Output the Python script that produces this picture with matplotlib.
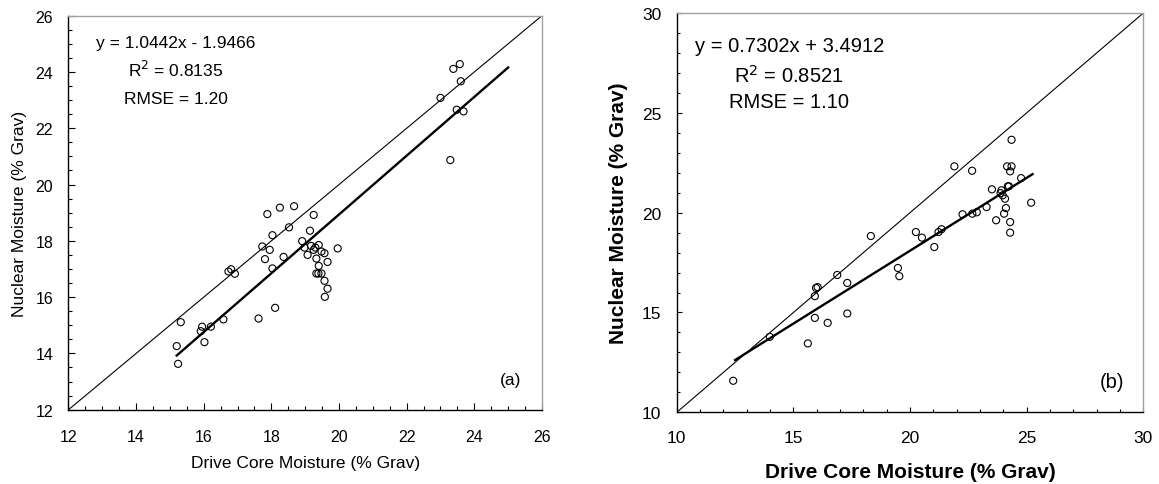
import numpy as np
import matplotlib
matplotlib.use("Agg")
import matplotlib.pyplot as plt
from matplotlib.ticker import MultipleLocator

plt.rcParams["font.family"] = ["Liberation Sans", "DejaVu Sans"]

# (a) drive core vs nuclear gauge moisture
core_a = [15.20, 15.24, 15.32, 15.91, 15.95, 16.02, 16.21, 16.58, 16.73, 16.81,
          16.92, 17.62, 17.73, 17.81, 17.88, 17.95, 18.03, 18.03, 18.11, 18.25,
          18.36, 18.52, 18.67, 18.91, 18.98, 19.07, 19.14, 19.17, 19.25, 19.25,
          19.30, 19.33, 19.40, 19.40, 19.33, 19.39, 19.48, 19.48, 19.57, 19.57,
          19.66, 19.66, 19.58, 19.96, 23.00, 23.38, 23.57, 23.60, 23.48, 23.68,
          23.29]
nuc_a = [14.26, 13.63, 15.11, 14.79, 14.95, 14.40, 14.95, 15.21, 16.91, 16.99,
         16.83, 15.24, 17.80, 17.35, 18.95, 17.68, 18.20, 17.02, 15.62, 19.18,
         17.43, 18.48, 19.23, 17.99, 17.76, 17.50, 18.36, 17.82, 18.92, 17.68,
         17.76, 17.37, 17.85, 17.11, 16.84, 16.84, 17.62, 16.84, 17.56, 16.58,
         17.25, 16.30, 16.01, 17.73, 23.08, 24.11, 24.28, 23.67, 22.66, 22.60,
         20.87]
slope_a, icept_a = 1.0442, -1.9466
fit_range_a = [15.2, 25.0]

# (b)
core_b = [12.42, 13.99, 15.62, 15.92, 15.92, 15.97, 16.04, 16.47, 16.88, 17.31,
          17.31, 18.32, 19.48, 19.54, 20.25, 20.51, 21.04, 21.22, 21.35, 21.90,
          22.25, 22.66, 22.67, 22.86, 23.28, 23.51, 23.69, 23.88, 23.92, 23.97,
          24.03, 24.07, 24.11, 24.16, 24.19, 24.24, 24.29, 24.29, 24.29, 24.35,
          24.35, 24.76, 25.19]
nuc_b = [11.58, 13.78, 13.45, 14.73, 15.82, 16.23, 16.27, 14.48, 16.88, 16.48,
         14.95, 18.83, 17.23, 16.82, 19.03, 18.75, 18.28, 19.03, 19.17, 22.32,
         19.92, 22.10, 19.95, 20.02, 20.28, 21.17, 19.62, 20.98, 21.12, 20.87,
         19.95, 20.70, 20.23, 22.32, 21.32, 21.32, 22.07, 19.53, 19.00, 23.65,
         22.32, 21.73, 20.50]
slope_b, icept_b = 0.7302, 3.4912
fit_range_b = [12.5, 25.25]

fig = plt.figure(figsize=(11.59, 4.85), dpi=100)
ax1 = fig.add_axes([0.0591, 0.1532, 0.4085, 0.8124])
ax2 = fig.add_axes([0.5839, 0.1478, 0.4026, 0.8233])


def style_axes(ax, lo, hi, major, minor, size, maj_len, min_len, xpad, ypad):
    ax.set_xlim(lo, hi)
    ax.set_ylim(lo, hi)
    ax.xaxis.set_major_locator(MultipleLocator(major))
    ax.yaxis.set_major_locator(MultipleLocator(major))
    ax.xaxis.set_minor_locator(MultipleLocator(minor))
    ax.yaxis.set_minor_locator(MultipleLocator(minor))
    ax.tick_params(which="major", direction="in", length=maj_len, width=0.8,
                   labelsize=size)
    ax.tick_params(which="minor", direction="in", length=min_len, width=0.8)
    ax.tick_params(axis="x", which="major", pad=xpad)
    ax.tick_params(axis="y", which="major", pad=ypad)
    for s in ["top", "right"]:
        ax.spines[s].set_color("#a0a0a0")
        ax.spines[s].set_linewidth(1.0)
    for s in ["left", "bottom"]:
        ax.spines[s].set_color("black")
        ax.spines[s].set_linewidth(1.0)
    # 1:1 line
    ax.plot([lo, hi], [lo, hi], color="black", lw=0.8)


def draw_panel(ax, x, y, slope, icept, rng, r2, rmse, tag, fs, tpos):
    ax.scatter(x, y, s=26, facecolors="none", edgecolors="black",
               linewidths=0.8, zorder=3)
    fx = np.array(rng)
    ax.plot(fx, slope * fx + icept, color="black", lw=1.7, zorder=2)
    sign = "-" if icept < 0 else "+"
    cx, ys = tpos
    ax.text(cx, ys[0], f"y = {slope:.4f}x {sign} {abs(icept):.4f}",
            transform=ax.transAxes, ha="center", va="center", fontsize=fs)
    ax.text(cx, ys[1], f"R$^2$ = {r2:.4f}", transform=ax.transAxes,
            ha="center", va="center", fontsize=fs)
    ax.text(cx, ys[2], f"RMSE = {rmse:.2f}", transform=ax.transAxes,
            ha="center", va="center", fontsize=fs)
    ax.text(0.933, 0.077, tag, transform=ax.transAxes, ha="center",
            va="center", fontsize=fs)


style_axes(ax1, 12, 26, 2, 0.5, 11.5, 4.8, 3.0, 14, 11)
draw_panel(ax1, core_a, nuc_a, slope_a, icept_a, fit_range_a, 0.8135, 1.20,
           "(a)", 12.5, (0.227, [0.933, 0.865, 0.791]))
ax1.set_xlabel("Drive Core Moisture (% Grav)", fontsize=12.5, labelpad=8)
ax1.set_ylabel("Nuclear Moisture (% Grav)", fontsize=12.5, labelpad=6)

style_axes(ax2, 10, 30, 5, 1, 12.5, 3.5, 2.5, 13, 11)
draw_panel(ax2, core_b, nuc_b, slope_b, icept_b, fit_range_b, 0.8521, 1.10,
           "(b)", 14.5, (0.241, [0.918, 0.845, 0.778]))
ax2.set_xlabel("Drive Core Moisture (% Grav)", fontsize=15,
               fontweight="bold", labelpad=12)
ax2.set_ylabel("Nuclear Moisture (% Grav)", fontsize=15,
               fontweight="bold", labelpad=10)

fig.savefig("out.png", dpi=100)
